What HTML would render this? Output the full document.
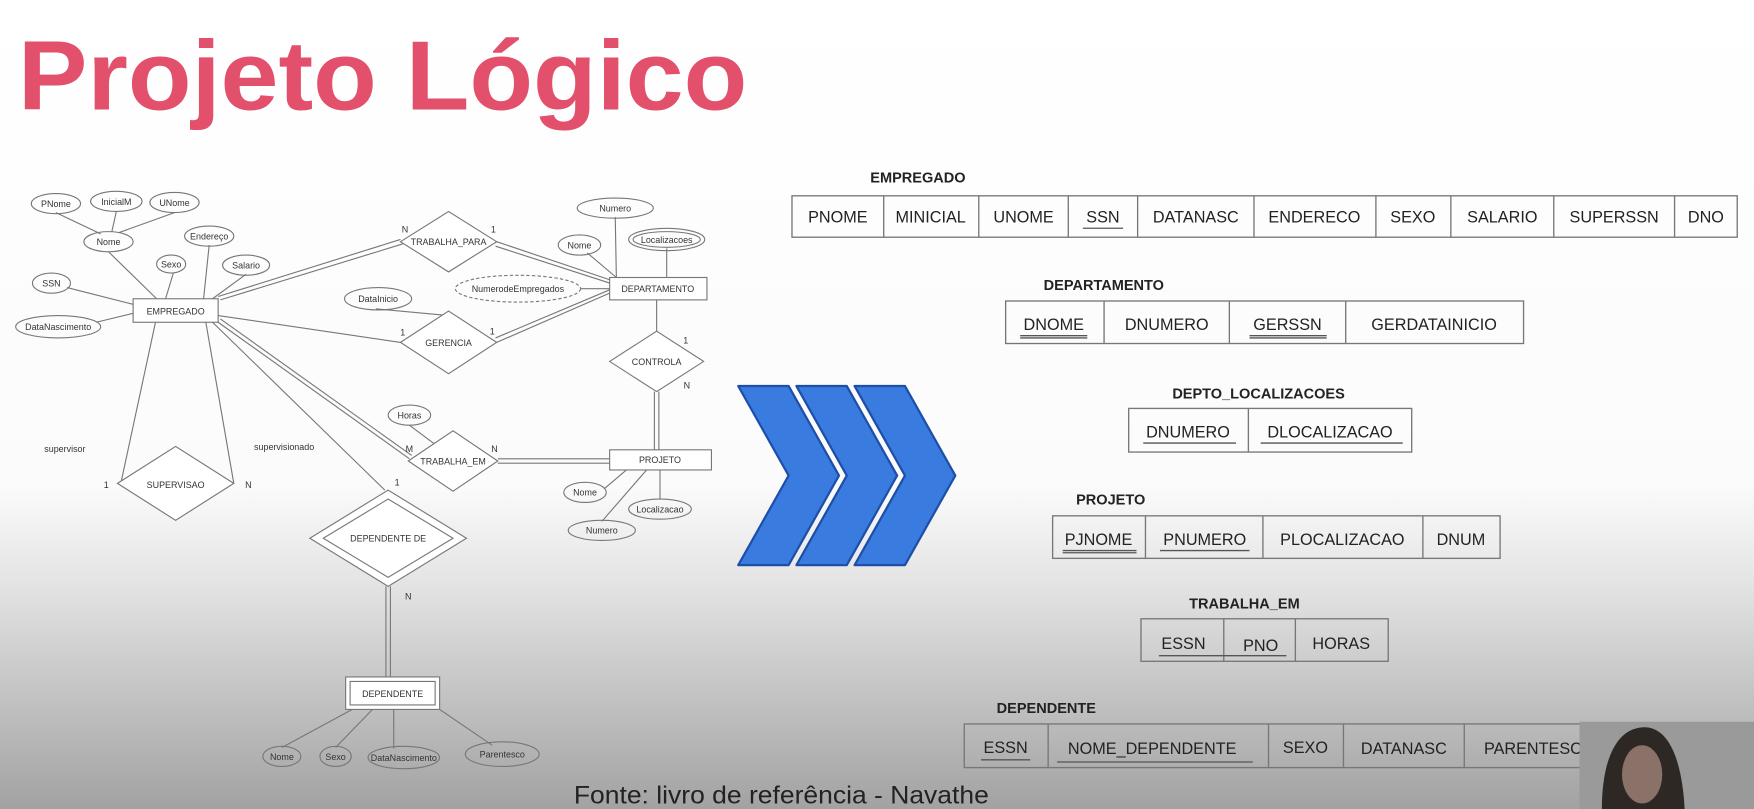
<!DOCTYPE html>
<html><head><meta charset="utf-8"><style>
html,body{margin:0;padding:0;width:1754px;height:809px;overflow:hidden;background:#fff}
svg{display:block}
text{font-family:"Liberation Sans",Arial,sans-serif}
</style></head><body>
<svg width="1754" height="809" viewBox="0 0 1568 723" preserveAspectRatio="none" xmlns="http://www.w3.org/2000/svg">
<defs>
<linearGradient id="bg" x1="0" y1="0" x2="0" y2="1">
<stop offset="0" stop-color="#ffffff"/>
<stop offset="0.6" stop-color="#fbfbfb"/>
<stop offset="0.72" stop-color="#e4e4e4"/>
<stop offset="1" stop-color="#a2a2a2"/>
</linearGradient>
</defs>
<rect width="1568" height="723" fill="url(#bg)"/>
<text x="16" y="98" font-size="88" font-weight="bold" fill="#e2506b" textLength="652" lengthAdjust="spacingAndGlyphs">Projeto Lógico</text>

<g stroke="#777" stroke-width="1" fill="none">
<line x1="50" y1="190" x2="90" y2="209"/><line x1="104" y1="189" x2="100" y2="207"/><line x1="156" y1="190" x2="106" y2="208"/>
<line x1="97" y1="225" x2="140" y2="267"/><line x1="155" y1="244" x2="148" y2="267"/>
<line x1="187" y1="219" x2="182" y2="267"/><line x1="220" y1="245" x2="190" y2="267"/>
<line x1="60" y1="257" x2="119" y2="272"/><line x1="86" y1="288" x2="119" y2="280"/>
<line x1="550" y1="194" x2="551" y2="248"/><line x1="525" y1="226" x2="551" y2="248"/>
<line x1="596" y1="222" x2="596" y2="248"/><line x1="519" y1="258" x2="545" y2="258"/>
<line x1="336" y1="276" x2="401" y2="282"/>
<line x1="366" y1="380" x2="390" y2="398"/>
<line x1="540" y1="437" x2="560" y2="420"/><line x1="590" y1="446" x2="590" y2="420"/><line x1="538" y1="466" x2="578" y2="420"/>
<line x1="252" y1="668" x2="315" y2="634"/><line x1="300" y1="668" x2="333" y2="634"/><line x1="352" y1="669" x2="352" y2="634"/><line x1="440" y1="666" x2="393" y2="634"/>
<line x1="195" y1="282" x2="358" y2="306"/>
<line x1="139" y1="288" x2="108" y2="432"/><line x1="184" y1="288" x2="209" y2="432"/>
<line x1="190" y1="288" x2="344" y2="438"/>
<line x1="587" y1="268" x2="587" y2="296"/>
<line x1="195" y1="265" x2="358" y2="214"/><line x1="197" y1="268" x2="360" y2="218"/>
<line x1="444" y1="216" x2="545" y2="250"/><line x1="443" y1="220" x2="545" y2="253"/>
<line x1="444" y1="306" x2="545" y2="262"/><line x1="443" y1="302" x2="545" y2="259"/>
<line x1="195" y1="288" x2="366" y2="410"/><line x1="197" y1="285" x2="368" y2="407"/>
<line x1="445" y1="410" x2="545" y2="410"/><line x1="445" y1="414" x2="545" y2="414"/>
<line x1="585" y1="350" x2="585" y2="402"/><line x1="589" y1="350" x2="589" y2="402"/>
<line x1="345" y1="524" x2="345" y2="605"/><line x1="349" y1="524" x2="349" y2="605"/>
<ellipse cx="50" cy="182" rx="22" ry="9"/><ellipse cx="104" cy="180" rx="23" ry="9"/><ellipse cx="156" cy="181" rx="22" ry="9"/>
<ellipse cx="97" cy="216" rx="22" ry="9"/><ellipse cx="187" cy="211" rx="22" ry="9"/><ellipse cx="153" cy="236" rx="13" ry="8"/>
<ellipse cx="220" cy="237" rx="21" ry="9"/><ellipse cx="46" cy="253" rx="17" ry="9"/><ellipse cx="52" cy="292" rx="38" ry="10"/>
<ellipse cx="550" cy="186" rx="34" ry="9"/><ellipse cx="518" cy="219" rx="19" ry="9"/>
<ellipse cx="596" cy="214" rx="34" ry="10"/><ellipse cx="596" cy="214" rx="30" ry="7"/>
<ellipse cx="463" cy="258" rx="56" ry="12" stroke-dasharray="3,2"/>
<ellipse cx="338" cy="267" rx="30" ry="10"/><ellipse cx="366" cy="371" rx="19" ry="9"/>
<ellipse cx="523" cy="440" rx="19" ry="9"/><ellipse cx="590" cy="455" rx="28" ry="9"/><ellipse cx="538" cy="474" rx="30" ry="9"/>
<ellipse cx="252" cy="676" rx="17" ry="9"/><ellipse cx="300" cy="676" rx="14" ry="9"/><ellipse cx="361" cy="677" rx="32" ry="10"/><ellipse cx="449" cy="674" rx="33" ry="11"/>
<rect x="119" y="267" width="76" height="21" fill="#fff"/>
<rect x="545" y="248" width="87" height="20" fill="#fff"/>
<rect x="545" y="402" width="91" height="18" fill="#fff"/>
<rect x="309" y="605" width="84" height="29" fill="#fff"/><rect x="313" y="609" width="76" height="21"/>
<polygon points="358,216 401,189 444,216 401,243" fill="#fff"/>
<polygon points="358,306 401,278 444,306 401,334" fill="#fff"/>
<polygon points="545,323 587,296 629,323 587,350" fill="#fff"/>
<polygon points="365,412 405,385 445,412 405,439" fill="#fff"/>
<polygon points="105,432 157,399 209,432 157,465" fill="#fff"/>
<polygon points="277,481 347,438 417,481 347,524" fill="#fff"/><polygon points="289,481 347,446 405,481 347,516"/>
</g>
<g font-size="8" fill="#333" text-anchor="middle">
<text x="50" y="185">PNome</text><text x="104" y="183">InicialM</text><text x="156" y="184">UNome</text>
<text x="97" y="219">Nome</text><text x="187" y="214">Endereço</text><text x="153" y="239">Sexo</text>
<text x="220" y="240">Salario</text><text x="46" y="256">SSN</text><text x="52" y="295">DataNascimento</text>
<text x="550" y="189">Numero</text><text x="518" y="222">Nome</text><text x="596" y="217">Localizacoes</text>
<text x="463" y="261">NumerodeEmpregados</text><text x="338" y="270">DataInicio</text><text x="366" y="374">Horas</text>
<text x="523" y="443">Nome</text><text x="590" y="458">Localizacao</text><text x="538" y="477">Numero</text>
<text x="252" y="679">Nome</text><text x="300" y="679">Sexo</text><text x="361" y="680">DataNascimento</text><text x="449" y="677">Parentesco</text>
<text x="157" y="281">EMPREGADO</text><text x="588" y="261">DEPARTAMENTO</text><text x="590" y="414">PROJETO</text><text x="351" y="623">DEPENDENTE</text>
<text x="401" y="219">TRABALHA_PARA</text><text x="401" y="309">GERENCIA</text><text x="587" y="326">CONTROLA</text>
<text x="405" y="415">TRABALHA_EM</text><text x="157" y="436">SUPERVISAO</text><text x="347" y="484">DEPENDENTE DE</text>
<text x="58" y="404">supervisor</text><text x="254" y="402">supervisionado</text>
<text x="362" y="208">N</text><text x="441" y="208">1</text><text x="360" y="300">1</text><text x="440" y="299">1</text>
<text x="613" y="307">1</text><text x="614" y="347">N</text><text x="366" y="404">M</text><text x="442" y="404">N</text>
<text x="95" y="436">1</text><text x="222" y="436">N</text><text x="355" y="434">1</text><text x="365" y="536">N</text>
</g>

<g fill="#3a7be0" stroke="#1d4fa8" stroke-width="2" stroke-linejoin="round">
<polygon points="660,345 705,345 750,425 705,505 660,505 705,425"/>
<polygon points="712,345 757,345 802,425 757,505 712,505 757,425"/>
<polygon points="764,345 809,345 854,425 809,505 764,505 809,425"/>
</g>

<g stroke="#777" stroke-width="1.2" fill="none">
<rect x="708" y="175" width="845" height="37"/>
<path d="M790 175V212M875 175V212M955 175V212M1017 175V212M1121 175V212M1230 175V212M1297 175V212M1389 175V212M1497 175V212"/>
<rect x="899" y="269" width="463" height="38"/><path d="M987 269V307M1099 269V307M1203 269V307"/>
<rect x="1009" y="365" width="253" height="39"/><path d="M1116 365V404"/>
<rect x="941" y="461" width="400" height="38"/><path d="M1024 461V499M1129 461V499M1272 461V499"/>
<rect x="1020" y="553" width="221" height="38"/><path d="M1094 553V591M1158 553V591"/>
<rect x="862" y="647" width="581" height="39"/><path d="M937 647V686M1134 647V686M1201 647V686M1309 647V686"/>
</g>
<g font-size="13" font-weight="bold" fill="#222">
<text x="778" y="163">EMPREGADO</text><text x="933" y="259">DEPARTAMENTO</text><text x="1048" y="356">DEPTO_LOCALIZACOES</text>
<text x="962" y="451">PROJETO</text><text x="1063" y="544">TRABALHA_EM</text><text x="891" y="637">DEPENDENTE</text>
</g>
<g font-size="14.5" fill="#222" text-anchor="middle">
<text x="749" y="199">PNOME</text><text x="832" y="199">MINICIAL</text><text x="915" y="199">UNOME</text><text x="986" y="199">SSN</text>
<text x="1069" y="199">DATANASC</text><text x="1175" y="199">ENDERECO</text><text x="1263" y="199">SEXO</text><text x="1343" y="199">SALARIO</text>
<text x="1443" y="199">SUPERSSN</text><text x="1525" y="199">DNO</text>
<text x="942" y="295">DNOME</text><text x="1043" y="295">DNUMERO</text><text x="1151" y="295">GERSSN</text><text x="1282" y="295">GERDATAINICIO</text>
<text x="1062" y="391">DNUMERO</text><text x="1189" y="391">DLOCALIZACAO</text>
<text x="982" y="487">PJNOME</text><text x="1077" y="487">PNUMERO</text><text x="1200" y="487">PLOCALIZACAO</text><text x="1306" y="487">DNUM</text>
<text x="1058" y="580">ESSN</text><text x="1127" y="582">PNO</text><text x="1199" y="580">HORAS</text>
<text x="899" y="673">ESSN</text><text x="1030" y="674">NOME_DEPENDENTE</text><text x="1167" y="673">SEXO</text><text x="1255" y="674">DATANASC</text><text x="1376" y="674">PARENTESCO</text>
</g>
<g stroke="#555" stroke-width="1.2">
<path d="M968 204H1004M912 300H972M1117 300H1186M1022 396H1105M1127 396H1254M950 492H1016M1037 492H1117M1036 586H1150M877 679H921M945 681H1120"/>
<path d="M912 302H972M1117 302H1186M950 494H1016"/>
</g>
<text x="513" y="718" font-size="22" fill="#222" textLength="371" lengthAdjust="spacingAndGlyphs">Fonte: livro de referência - Navathe</text>

<rect x="1412" y="645" width="156" height="78" fill="#9a9a9a"/>
<path d="M1432 723 C1432 685 1442 652 1468 650 C1494 648 1504 685 1506 723 Z" fill="#2e2825"/>
<ellipse cx="1468" cy="692" rx="18" ry="26" fill="#8a7268"/>
</svg>
</body></html>
